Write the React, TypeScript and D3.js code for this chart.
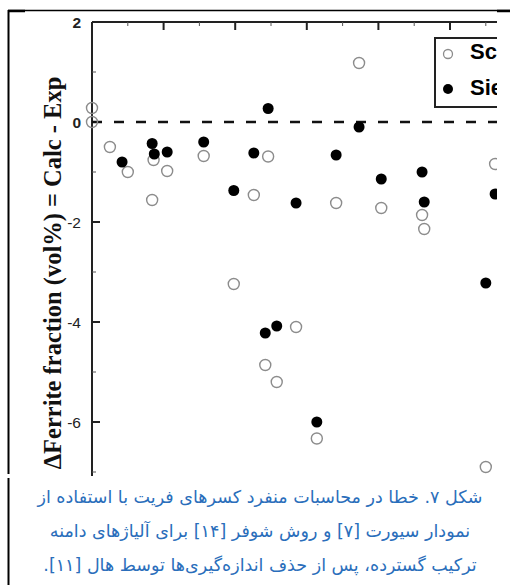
import React from "react";
import * as d3 from "d3";

// Estimated alloy index (x) and ΔFerrite (Calc - Exp, vol%)
const schaefflerX = [0, 0, 2.5, 5.0, 8.6, 8.4, 10.5, 15.6, 19.8, 22.6, 24.6, 28.5, 24.2, 25.8, 31.4, 34.1, 37.3, 40.4, 46.1, 46.4, 56.3, 55.0];
const schaefflerY = [0.28, 0.0, -0.5, -1.0, -0.76, -1.56, -0.98, -0.68, -3.24, -1.46, -0.69, -4.1, -4.86, -5.2, -6.33, -1.62, 1.18, -1.72, -1.86, -2.14, -0.84, -6.9];
const sievertX = [4.2, 8.4, 8.7, 10.5, 15.6, 19.8, 22.6, 24.6, 28.5, 34.1, 37.3, 40.4, 46.1, 46.4, 56.3, 55.0, 24.2, 25.8, 31.4];
const sievertY = [-0.8, -0.43, -0.64, -0.6, -0.4, -1.37, -0.62, 0.27, -1.62, -0.66, -0.1, -1.14, -1.0, -1.6, -1.44, -3.22, -4.22, -4.08, -6.0];

const yMajorTicks = [2, 0, -2, -4, -6];
const yMinorTicks = [1, -1, -3, -5, -7];
const xMajorTicks = [10, 20, 30, 40, 50];
const xMinorTicks = [5, 15, 25, 35, 45, 55];
const legendLabels = ["Sc", "Sie"];
const yLabel = "ΔFerrite fraction (vol%) = Calc - Exp";
const captionLines = [
  "شکل ۷. خطا در محاسبات منفرد کسرهای فریت با استفاده از",
  "نمودار سیورت [۷] و روش شوفر [۱۴] برای آلیاژهای دامنه",
  "ترکیب گسترده، پس از حذف اندازه‌گیری‌ها توسط هال [۱۱].",
];

export default function App() {
  const W = 510, H = 585;
  const x = d3.scaleLinear().domain([0, 60]).range([92, 521.6]);
  const y = d3.scaleLinear().domain([2, -8]).range([22, 522]);
  const plotTop = y(2);
  const clipRight = 497;
  const clipBottom = 476;
  const r = 5.5;

  return (
    <svg width={W} height={H} style={{ display: "block", position: "absolute", left: 0, top: 0 }}>
      <defs>
        <clipPath id="chartClip">
          <rect x={0} y={0} width={clipRight} height={clipBottom} />
        </clipPath>
      </defs>
      <rect x={0} y={0} width={W} height={H} fill="#fff" />
      {/* frame */}
      <line x1={8} x2={W} y1={10.5} y2={10.5} stroke="#000" strokeWidth={1.5} />
      <line x1={8} x2={25} y1={11} y2={11} stroke="#000" strokeWidth={2.5} />
      <line x1={497} x2={W} y1={11} y2={11} stroke="#000" strokeWidth={2.5} />
      <line x1={8.5} x2={8.5} y1={10} y2={474} stroke="#000" strokeWidth={2} />
      <line x1={8.5} x2={8.5} y1={478} y2={H} stroke="#000" strokeWidth={2} />

      <g clipPath="url(#chartClip)">
        {/* y axis */}
        <line x1={x(0)} x2={x(0)} y1={plotTop} y2={clipBottom} stroke="#222" strokeWidth={2} />
        {/* top axis */}
        <line x1={x(0)} x2={clipRight} y1={plotTop} y2={plotTop} stroke="#222" strokeWidth={2} />
        {yMajorTicks.map((t) => (
          <line key={"ym" + t} x1={x(0)} x2={x(0) + 8} y1={y(t)} y2={y(t)} stroke="#222" strokeWidth={2} />
        ))}
        {yMinorTicks.map((t) => (
          <line key={"yn" + t} x1={x(0)} x2={x(0) + 4} y1={y(t)} y2={y(t)} stroke="#555" strokeWidth={1} />
        ))}
        {xMajorTicks.map((t) => (
          <line key={"xm" + t} x1={x(t)} x2={x(t)} y1={plotTop} y2={plotTop + 8} stroke="#222" strokeWidth={2} />
        ))}
        {xMinorTicks.map((t) => (
          <line key={"xn" + t} x1={x(t)} x2={x(t)} y1={plotTop} y2={plotTop + 4} stroke="#555" strokeWidth={1} />
        ))}
        {yMajorTicks.map((t) => (
          <text key={"yl" + t} x={81} y={y(t)} dy="0.36em" textAnchor="end"
            fontFamily="Liberation Sans, Arial, sans-serif" fontSize={15.5}
            fontWeight={t >= 0 ? "bold" : "normal"} fill="#222">
            {t < 0 ? "-" + Math.abs(t) : String(t)}
          </text>
        ))}
        {/* zero reference */}
        <line x1={x(0)} x2={clipRight} y1={y(0)} y2={y(0)} stroke="#111" strokeWidth={2.5} strokeDasharray="10 12" />

        {/* Schaeffler open circles */}
        {schaefflerX.map((v, i) => (
          <circle key={"s" + i} cx={x(v)} cy={y(schaefflerY[i])} r={r} fill="none" stroke="#8c8c8c" strokeWidth={1.4} />
        ))}
        {/* Sievert filled circles */}
        {sievertX.map((v, i) => (
          <circle key={"v" + i} cx={x(v)} cy={y(sievertY[i])} r={r} fill="#000" />
        ))}

        {/* legend */}
        <rect x={435} y={38} width={100} height={69} fill="#fff" stroke="#222" strokeWidth={2} />
        <circle cx={448} cy={54} r={4.5} fill="none" stroke="#8c8c8c" strokeWidth={1.3} />
        <circle cx={448} cy={89} r={5} fill="#000" />
        <text x={470} y={59} fontFamily="Liberation Sans, Arial, sans-serif" fontWeight="bold" fontSize={22} fill="#000">{legendLabels[0]}</text>
        <text x={470} y={95} fontFamily="Liberation Sans, Arial, sans-serif" fontWeight="bold" fontSize={22} fill="#000">{legendLabels[1]}</text>

        {/* y label */}
        <text transform="translate(61,273) rotate(-90)" textAnchor="middle"
          fontFamily="Liberation Serif, Times New Roman, serif" fontWeight="bold" fontSize={24.5} fill="#111">
          {yLabel}
        </text>
      </g>

      {/* caption */}
      {captionLines.map((line, i) => (
        <text key={"c" + i} x={260} y={503 + i * 34} textAnchor="middle" direction="rtl"
          fontFamily="DejaVu Sans, sans-serif" fontSize={17.5} fill="#2a6ebb">
          {line}
        </text>
      ))}
    </svg>
  );
}
